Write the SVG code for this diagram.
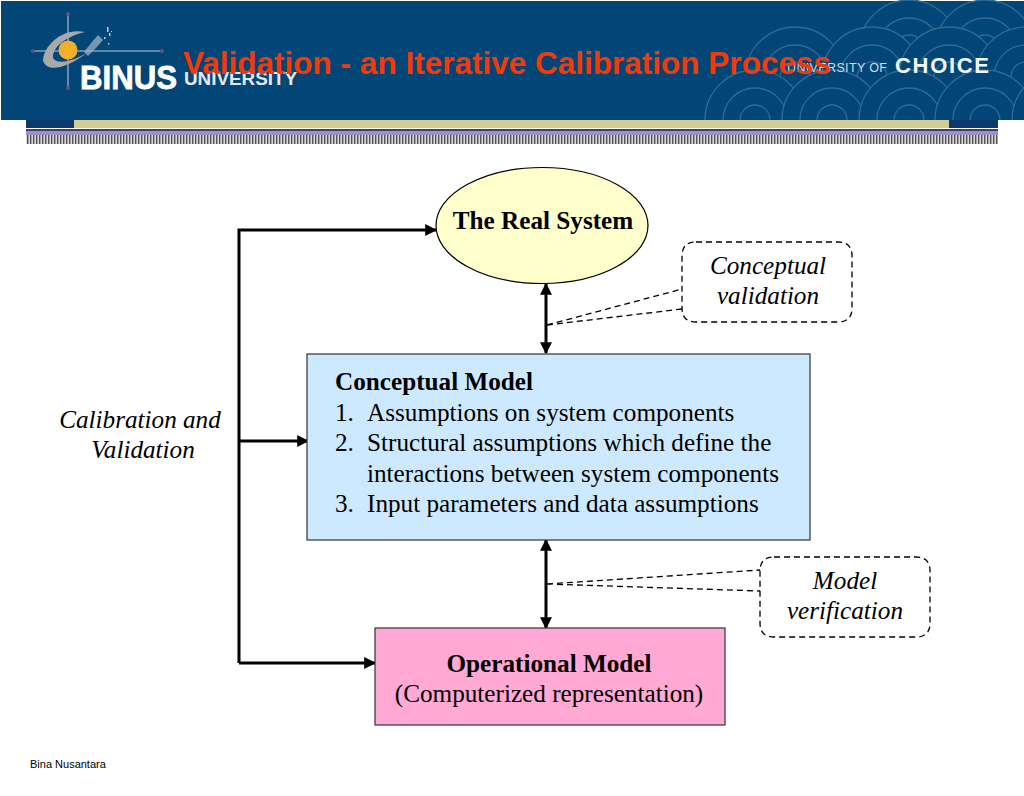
<svg xmlns="http://www.w3.org/2000/svg" width="1024" height="796" viewBox="0 0 1024 796">
<style>
text{font-family:"Liberation Serif","Times New Roman",serif;font-size:25.200px;fill:#000}
.b{font-weight:bold}.i{font-style:italic}.m{text-anchor:middle}
.call{fill:#fff;stroke:#000;stroke-width:1.3;stroke-dasharray:6 4}
.dash{fill:none;stroke:#000;stroke-width:1.3;stroke-dasharray:6 4}
.box{stroke:#333;stroke-width:1.2}
.ln{fill:none;stroke:#000;stroke-width:3}
.arc{fill:#024678;stroke:#336a94;stroke-width:1.3}
.arc2{fill:none;stroke:#336a94;stroke-width:1.3}
</style>
<defs>
<marker id="a" viewBox="0 0 10 10" refX="9" refY="5" markerWidth="4" markerHeight="4" orient="auto-start-reverse"><path d="M0 0L10 5L0 10Z" fill="#000"/></marker>
<pattern id="st" width="3" height="8" patternUnits="userSpaceOnUse"><rect width="3" height="8" fill="#d8d8d8"/><rect width="1.4" height="8" fill="#555"/></pattern>
<g id="scales"><circle r="50" class="arc"/><circle r="32" class="arc2"/><circle r="15" class="arc2"/></g>
<clipPath id="hc"><rect x="700" y="0" width="324" height="120"/></clipPath>
</defs>
<rect width="1024" height="796" fill="#fff"/>
<g id="header">
<rect x="1" y="1" width="1023" height="119" fill="#024678"/>
<g clip-path="url(#hc)">
<use href="#scales" x="909" y="50"/><use href="#scales" x="985" y="50"/>
<use href="#scales" x="795" y="77"/><use href="#scales" x="872" y="77"/><use href="#scales" x="949" y="77"/><use href="#scales" x="1026" y="77"/>
<use href="#scales" x="755" y="120"/><use href="#scales" x="832" y="120"/><use href="#scales" x="909" y="120"/><use href="#scales" x="985" y="120"/><use href="#scales" x="1062" y="120"/>
</g>
<rect x="26" y="120" width="48" height="8" fill="#0d3a6e"/>
<rect x="74" y="120" width="875" height="8" fill="#d2cd97"/>
<rect x="949" y="120" width="49" height="8" fill="#0d3a6e"/>
<rect x="26" y="129" width="972" height="2" fill="#44405f"/>
<rect x="26" y="131" width="972" height="4" fill="#9d90c8"/>
<rect x="26" y="135" width="972" height="9" fill="url(#st)"/>
</g>
<g id="logo">
<path d="M68 14V88M33 51H162" stroke="#7f9dbd" stroke-width="1.600" fill="none"/>
<circle cx="68" cy="14" r="2" fill="#6b5070"/><circle cx="68" cy="88" r="2" fill="#6b5070"/><circle cx="33" cy="51" r="2" fill="#6b5070"/><circle cx="162" cy="51" r="2" fill="#6b5070"/>
<path d="M85 32C62 27 44 46 43 60C45 71 62 72 88 52C76 60 58 66 53 58C52 46 68 36 85 32Z" fill="#a9a9a9"/>
<circle cx="68" cy="50" r="9.500" fill="#f3ae2c"/>
<path d="M84 52L92 42L98 35L103 40L96 48L88 56Z" fill="#a9b6c4" opacity=".7"/>
<path d="M107 27h1.500v5h-1.500zM109 33h1.500v3h-1.500zM111 31h1v1h-1zM104 37h1.500v2h-1.500zM108 43h1.500v1.500h-1.500z" fill="#c4ccd6"/>
<text x="80" y="89" style="font-family:'Liberation Sans',sans-serif;font-size:33px;font-weight:bold;fill:#fff;stroke:#fff;stroke-width:.8" textLength="97" lengthAdjust="spacingAndGlyphs">BINUS</text>
<text x="184" y="85" style="font-family:'Liberation Sans',sans-serif;font-size:18px;font-weight:bold;fill:#e4e9ef" textLength="113" lengthAdjust="spacingAndGlyphs">UNIVERSITY</text>
<text x="787" y="72" style="font-family:'Liberation Sans',sans-serif;font-size:12.500px;fill:#cfdbe6" textLength="100">UNIVERSITY OF</text>
<text x="895" y="73" style="font-family:'Liberation Sans',sans-serif;font-size:22px;font-weight:bold;fill:#f2f6fa" textLength="94">CHOICE</text>
</g>
<text id="title" x="183" y="74" style="font-family:'Liberation Sans',Arial,sans-serif;font-size:31px;font-weight:bold;fill:#f23a08" textLength="648" lengthAdjust="spacingAndGlyphs">Validation - an Iterative Calibration Process</text>
<g id="connectors">
<path class="ln" d="M239 663V230H436" marker-end="url(#a)"/>
<path class="ln" d="M239 441H308" marker-end="url(#a)"/>
<path class="ln" d="M239 663H375" marker-end="url(#a)"/>
<path class="ln" d="M546 284V353" marker-start="url(#a)" marker-end="url(#a)"/>
<path class="ln" d="M546 540V628" marker-start="url(#a)" marker-end="url(#a)"/>
<path class="dash" d="M547 325L682 289M547 325L682 309"/>
<path class="dash" d="M547 584L760 570M547 584L760 591"/>
</g>
<g id="real-system">
<ellipse cx="542" cy="225.500" rx="106" ry="58" fill="#ffffcc" stroke="#000" stroke-width="1.200"/>
<text class="b m" x="543" y="229">The Real System</text>
</g>
<g id="conceptual-validation">
<path class="call" d="M696 242H838Q852 242 852 256V308Q852 322 838 322H696Q682 322 682 308V256Q682 242 696 242Z"/>
<text class="i m" x="768" y="274">Conceptual</text>
<text class="i m" x="768" y="304">validation</text>
</g>
<g id="conceptual-model">
<rect class="box" x="307" y="354" width="503" height="186" fill="#cce9ff"/>
<text class="b" x="335" y="390">Conceptual Model</text>
<text x="335" y="421">1.</text><text x="367" y="421">Assumptions on system components</text>
<text x="335" y="451">2.</text><text x="367" y="451">Structural assumptions which define the</text>
<text x="367" y="482">interactions between system components</text>
<text x="335" y="512">3.</text><text x="367" y="512">Input parameters and data assumptions</text>
</g>
<g id="calibration-validation">
<text class="i m" x="140" y="428">Calibration and</text>
<text class="i m" x="143" y="458">Validation</text>
</g>
<g id="model-verification">
<path class="call" d="M774 557H916Q930 557 930 571V623Q930 637 916 637H774Q760 637 760 623V571Q760 557 774 557Z"/>
<text class="i m" x="845" y="589">Model</text>
<text class="i m" x="845" y="619">verification</text>
</g>
<g id="operational-model">
<rect class="box" x="375" y="628" width="350" height="97" fill="#ffa9d4"/>
<text class="b m" x="549" y="672">Operational Model</text>
<text class="m" x="549" y="702">(Computerized representation)</text>
</g>
<text id="footer" x="30" y="768" style="font-family:'Liberation Sans',Arial,sans-serif;font-size:11px">Bina Nusantara</text>
</svg>
